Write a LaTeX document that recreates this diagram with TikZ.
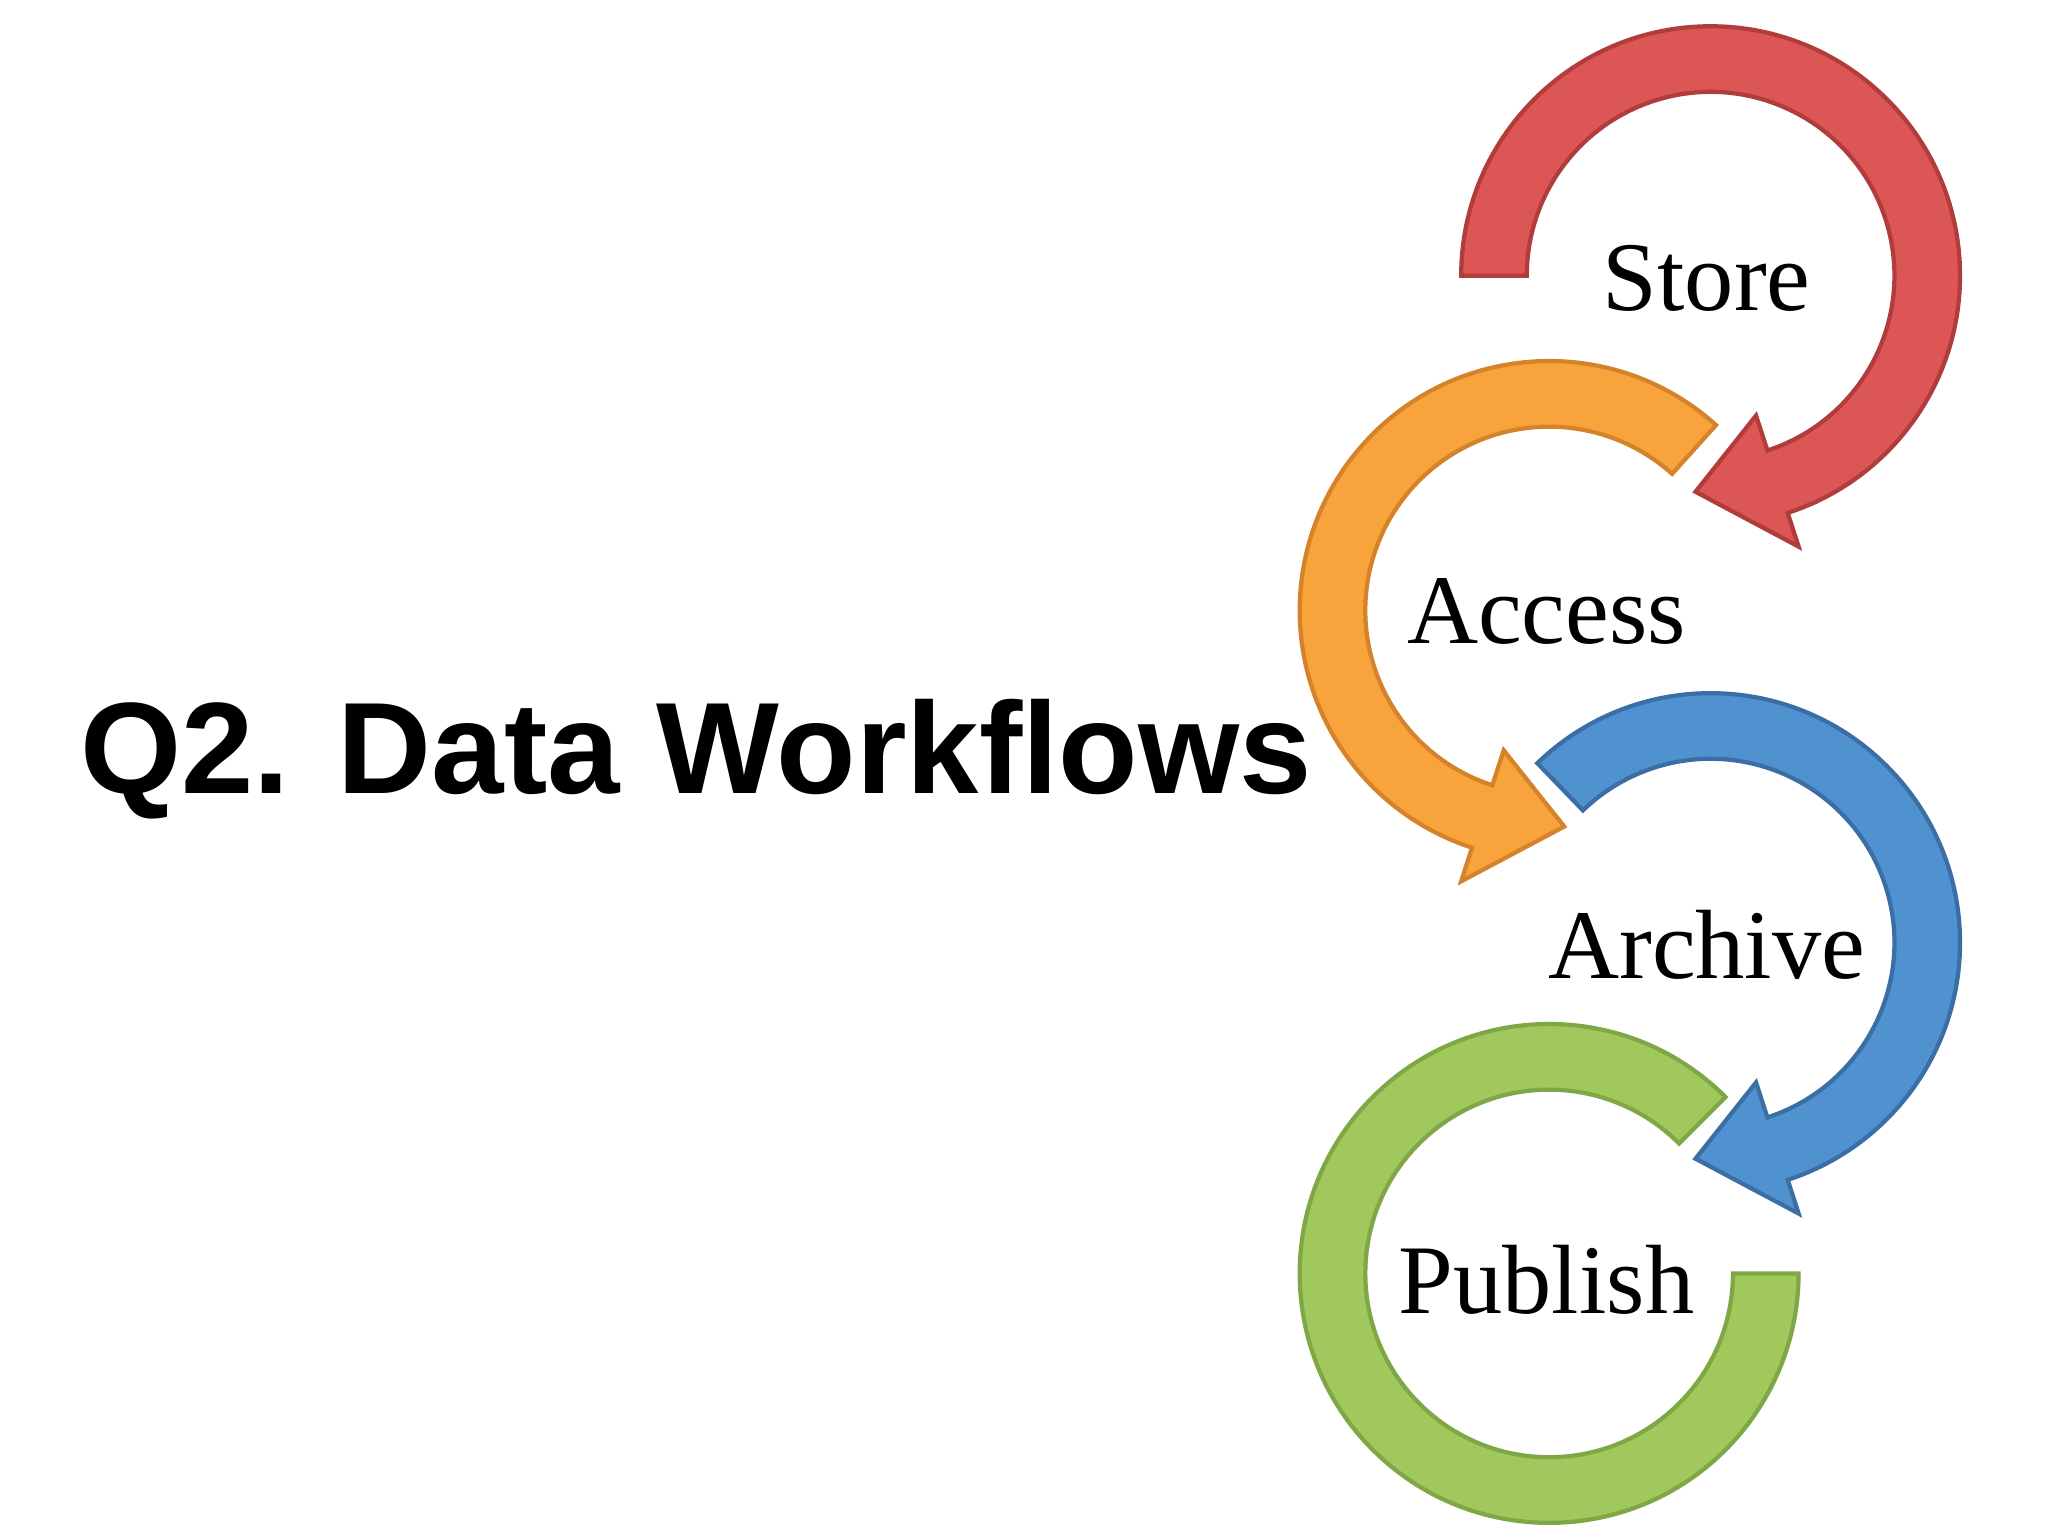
\documentclass[tikz,border=0pt]{standalone}
\usepackage{fontspec}
\setmainfont{Liberation Serif}
\newfontfamily\titlefont{Liberation Sans}
\usetikzlibrary{calc}
\definecolor{rfill}{HTML}{DC5656}\definecolor{rdraw}{HTML}{B03C3C}
\definecolor{ofill}{HTML}{F9A33C}\definecolor{odraw}{HTML}{D4832A}
\definecolor{bfill}{HTML}{5091CF}\definecolor{bdraw}{HTML}{3A6EA5}
\definecolor{gfill}{HTML}{A0C85C}\definecolor{gdraw}{HTML}{7FA745}
\tikzset{lbl/.style={font=\fontsize{28}{30}\selectfont}}
% #1 centre, #2 start, #3 end, #4 tip angle, #5 style
\newcommand\ringarrow[5]{%
  \draw[#5] ($(#1)+(#2:190)$) arc[start angle=#2,end angle=#3,radius=190]
    -- ($(#1)+(#3:217)$) -- ($(#1)+(#4:165)$) -- ($(#1)+(#3:112)$)
    -- ($(#1)+(#3:140)$) arc[start angle=#3,end angle=#2,radius=140] -- cycle;}
\begin{document}
\begin{tikzpicture}[x=0.013128cm,y=0.013128cm,line width=1.2pt,line join=miter]
\useasboundingbox (0,0) rectangle (1560,1170);
\fill[white] (0,0) rectangle (1560,1170);
\coordinate (cs) at (1303,960);
\coordinate (ca) at (1180,705);
\coordinate (cr) at (1303,452);
\coordinate (cp) at (1180,200);
\ringarrow{cs}{180}{-72}{-94}{fill=rfill,draw=rdraw}
\ringarrow{ca}{48}{252}{274}{fill=ofill,draw=odraw}
\ringarrow{cr}{134}{-72}{-94}{fill=bfill,draw=bdraw}
\draw[fill=gfill,draw=gdraw] ($(cp)+(45:190)$) arc[start angle=45,end angle=360,radius=190]
  -- ($(cp)+(0:140)$) arc[start angle=360,end angle=45,radius=140] -- cycle;
\node[lbl] (store) at (1300,958) {Store};
\node[lbl] (access) at (1178,704) {Access};
\node[lbl] (archive) at (1300,450) {Archive};
\node[lbl] (publish) at (1178,195) {Publish};
\node[font=\titlefont\bfseries\fontsize{37}{40}\selectfont] (title) at (530,592) {Q2. Data Workflows};
\end{tikzpicture}
\end{document}
